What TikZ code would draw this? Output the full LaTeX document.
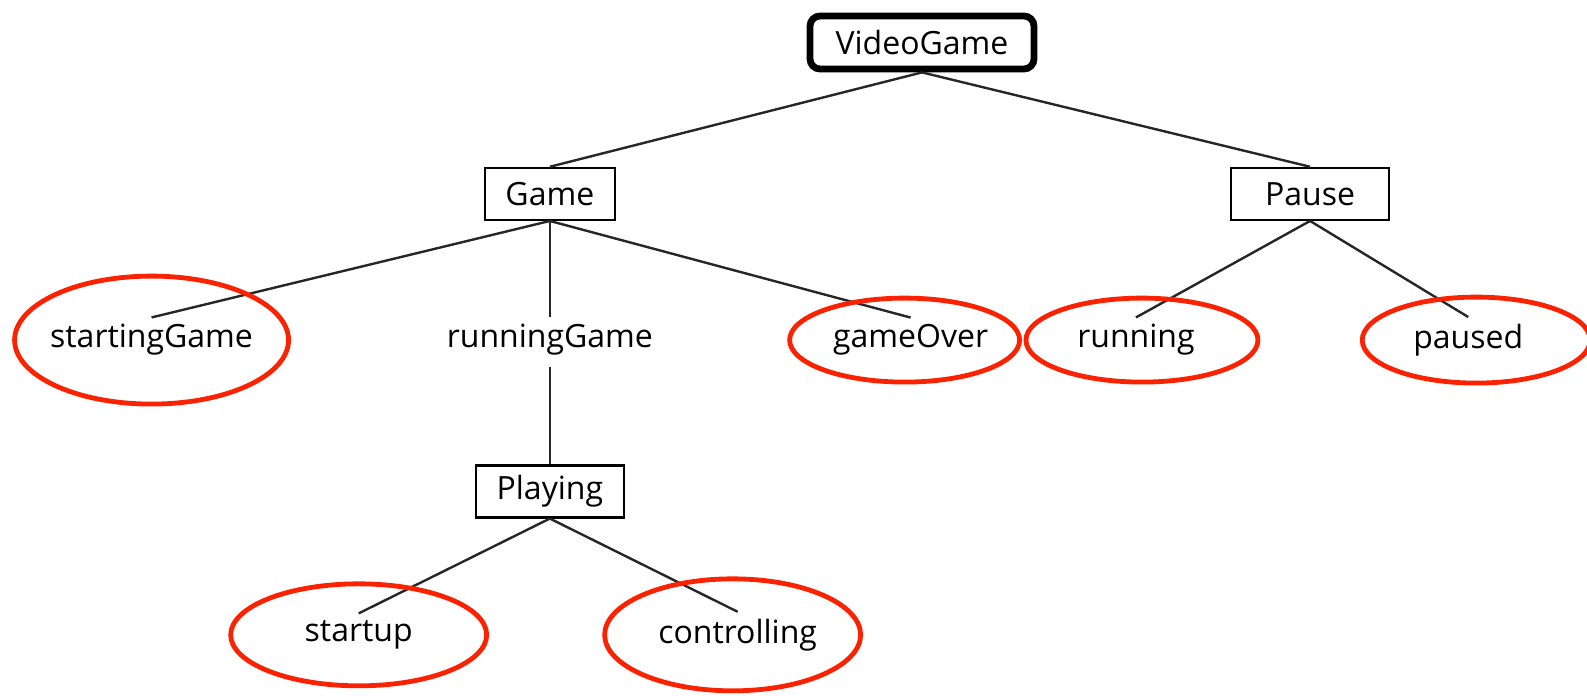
\documentclass[tikz,border=0pt]{standalone}
\usepackage{fontspec}
\setmainfont{Open Sans}
\usepackage{tikz}
\usetikzlibrary{shapes.geometric,positioning}
\definecolor{annotred}{RGB}{250,34,0}

\begin{document}
\begin{tikzpicture}[
        on grid,
        every node/.style={font=\fontsize{16pt}{19pt}\selectfont},
        statebox/.style={
            rectangle,
            draw=black,
            line width=1.1pt,
            minimum height=26pt,
            text centered
        },
        rootbox/.style={
            rectangle,
            rounded corners=5pt,
            draw=black,
            line width=3.4pt,
            minimum width=112pt,
            minimum height=26.5pt,
            text centered
        },
        leaf/.style={
            text centered
        },
        link/.style={
            line width=1.2pt,
            color=black!85
        },
        highlight/.style={
            ellipse,
            draw=annotred,
            line width=2.4pt
        }
    ]
    \useasboundingbox (-16.204,-11.468) rectangle (11.687,0.747);

    % Root state (top)
    \node[rootbox] (vg) at (0,0) {VideoGame};

    % Sub-states
    \node[statebox, minimum width=65pt, below left=2.66cm and 6.54cm of vg] (game) {Game};
    \node[statebox, minimum width=79pt, below right=2.66cm and 6.82cm of vg] (pause) {Pause};

    % Children of Game
    \node[leaf, below left=2.57cm and 7.00cm of game] (sg) {startingGame};
    \node[leaf, below=2.57cm of game] (rg) {runningGame};
    \node[leaf, below right=2.57cm and 6.34cm of game] (go) {gameOver};

    % Children of Pause
    \node[leaf, below left=2.57cm and 3.06cm of pause] (run) {running};
    \node[leaf, below right=2.57cm and 2.78cm of pause] (psd) {paused};

    % Playing and its children (bottom)
    \node[statebox, minimum width=74pt, below=2.66cm of rg] (play) {Playing};
    \node[leaf, below left=2.52cm and 3.36cm of play] (su) {startup};
    \node[leaf, below right=2.52cm and 3.30cm of play] (ctl) {controlling};

    % Tree edges
    \draw[link] (vg.south) -- (game.north);
    \draw[link] (vg.south) -- (pause.north);
    \draw[link] (game.south) -- (sg.north);
    \draw[link] (game.south) -- (rg.north);
    \draw[link] (game.south) -- (go.north);
    \draw[link] (pause.south) -- (run.north);
    \draw[link] (pause.south) -- (psd.north);
    \draw[link, shorten <=2pt] (rg.south) -- (play.north);
    \draw[link] (play.south) -- (su.north);
    \draw[link] (play.south) -- (ctl.north);

    % Red marks round the leaf states
    \node[highlight, minimum width=137pt, minimum height=64pt] (sgmark) at (sg) {};
    \node[highlight, minimum width=115pt, minimum height=42pt, xshift=-3pt] (gomark) at (go) {};
    \node[highlight, minimum width=116pt, minimum height=42pt, xshift=3pt] (runmark) at (run) {};
    \node[highlight, minimum width=114pt, minimum height=43pt, xshift=4pt] (psdmark) at (psd) {};
    \node[highlight, minimum width=128pt, minimum height=51pt] (sumark) at (su) {};
    \node[highlight, minimum width=128pt, minimum height=56pt, xshift=-2.5pt] (ctlmark) at (ctl) {};

    \end{tikzpicture}
\end{document}
